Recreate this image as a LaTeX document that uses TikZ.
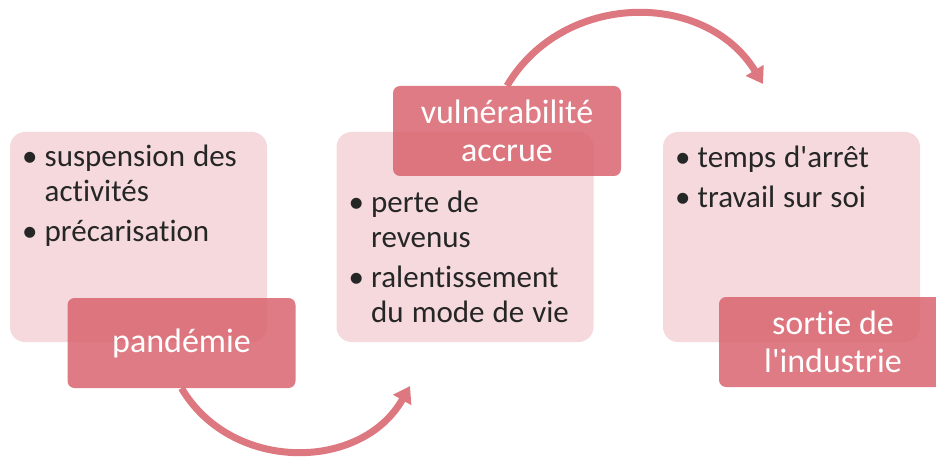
\documentclass[tikz,border=0pt]{standalone}
\usepackage{fontspec}
\setmainfont{Carlito}[Ligatures={TeXOff,CommonOff}]
\usetikzlibrary{arrows.meta, positioning, calc}

\definecolor{roselight}{RGB}{245,217,220}
\definecolor{rosedark}{RGB}{217,100,110}
\definecolor{rosearrow}{RGB}{221,120,128}
\definecolor{textgrey}{RGB}{38,38,38}

\newlength{\bulind}
\setlength{\bulind}{22.7pt}
\newcommand{\bul}[1]{\parskip=5pt\spaceskip=8pt\hangindent=\bulind\hangafter=1\noindent\hbox to \bulind{\textbullet\hfil}#1\par}

\begin{document}
\begin{tikzpicture}[>={Triangle[width=20pt,length=16pt]}, node distance=326.5pt]
		\tikzstyle{lightbox}=[rectangle, rounded corners=15pt, fill=roselight, minimum width=257pt, minimum height=210pt, inner sep=0pt]
		\tikzstyle{darkbox}=[rectangle, rounded corners=7pt, fill=rosedark, fill opacity=0.85, text opacity=1, text=white, minimum width=228pt, minimum height=90pt, align=center, font=\fontsize{34}{37.5}\selectfont]
		\tikzstyle{pointlist}=[anchor=base west, inner sep=0pt, text width=230pt, align=left, text=textgrey, font=\fontsize{31}{35}\selectfont]
		\tikzstyle{flow}=[->, draw=rosearrow, line width=7pt, looseness=1.1]
		
		\useasboundingbox (0,0) rectangle (936pt,-457pt);
		
		\node[lightbox] (A) at (138.5pt,-237pt) {};
		\node[lightbox] (B) [right of=A]        {};
		\node[lightbox] (C) [right of=B]        {};
		
		\node[pointlist] (LA) at ($(A.north west)+(12pt,-34.7pt)$) {\bul{suspension des\newline activités}\bul{précarisation}};
		\node[pointlist] (LB) at ($(B.north west)+(12pt,-81pt)$) {\bul{perte de\newline revenus}\bul{ralentissement\newline du mode de vie}};
		\node[pointlist] (LC) at ($(C.north west)+(12pt,-36pt)$) {\bul{temps d'arrêt}\bul{travail sur soi}};
		
		\node[darkbox] (P) at ($(A)+(43pt,-106pt)$)   {pandémie};
		\node[darkbox] (V) at ($(B)+(42pt,106pt)$)    {vulnérabilité\\accrue};
		\node[darkbox] (S) at ($(C)+(41.5pt,-105pt)$) {sortie de\\l'industrie};
		
		\coordinate (T1) at (410pt,-386pt);
		\coordinate (T2) at (763pt,-84pt);
		
		\path (P.south) edge[flow, bend right=60] (T1)
		(V.north) edge[flow, bend left=59] (T2);
	\end{tikzpicture}
\end{document}
